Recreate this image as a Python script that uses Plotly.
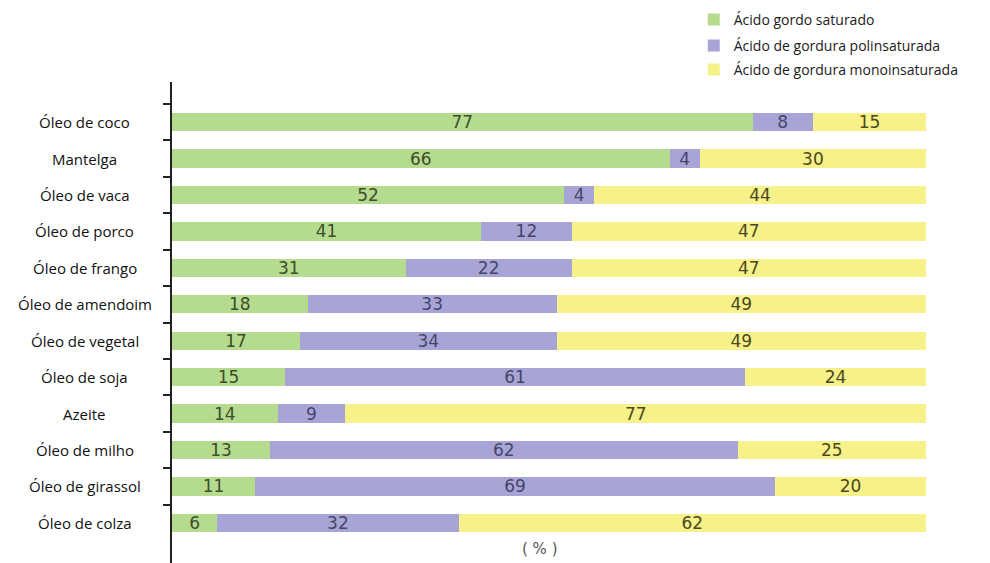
import plotly.graph_objects as go

oils = ["Óleo de coco", "Mantelga", "Óleo de vaca", "Óleo de porco", "Óleo de frango",
        "Óleo de amendoim", "Óleo de vegetal", "Óleo de soja", "Azeite", "Óleo de milho",
        "Óleo de girassol", "Óleo de colza"]
saturated = [77, 66, 52, 41, 31, 18, 17, 15, 14, 13, 11, 6]
polyunsat = [8, 4, 4, 12, 22, 33, 34, 61, 9, 62, 69, 32]
monounsat = [15, 30, 44, 47, 47, 49, 49, 24, 77, 25, 20, 62]

series_names = ["Ácido gordo saturado", "Ácido de gordura polinsaturada",
                "Ácido de gordura monoinsaturada"]
bar_colors = ["#b4db8e", "#a8a5d6", "#f6f188"]
text_colors = ["#3e4d2c", "#45456a", "#4b4722"]
legend_ids = ["legend", "legend2", "legend3"]
legend_rows_y = [1.129, 1.075, 1.025]

fig = go.Figure()
for name, vals, bc, tc, lid in zip(series_names, [saturated, polyunsat, monounsat],
                                   bar_colors, text_colors, legend_ids):
    fig.add_trace(go.Bar(
        y=oils, x=vals, name=name, orientation="h", legend=lid,
        marker=dict(color=bc, line=dict(width=0)),
        text=[str(v) for v in vals], textposition="inside",
        insidetextanchor="middle", textangle=0,
        textfont=dict(family="DejaVu Sans", size=17, color=tc),
        hoverinfo="skip",
    ))

# category labels, centred in the left margin
for oil in oils:
    fig.add_annotation(x=-0.1154, xref="paper", y=oil, yref="y", text=oil,
                       showarrow=False, xanchor="center", yanchor="middle",
                       font=dict(family="Open Sans", size=15, color="#111111"))

fig.add_annotation(x=48.8, xref="x", y=0.03, yref="paper", text="( % )",
                   showarrow=False, xanchor="center", yanchor="middle",
                   font=dict(family="DejaVu Sans", size=15, color="#555555"))

legend_style = dict(x=0.692, xanchor="left", yanchor="middle",
                    bgcolor="rgba(0,0,0,0)",
                    font=dict(family="Open Sans", size=14, color="#1a1a1a"),
                    itemwidth=30)

fig.update_layout(
    width=990, height=563,
    margin=dict(l=172, r=64, t=82, b=0),
    paper_bgcolor="white", plot_bgcolor="white",
    barmode="stack", bargap=0.5,
    uniformtext=dict(mode="show", minsize=17),
    showlegend=True,
    legend=dict(y=legend_rows_y[0], **legend_style),
    legend2=dict(y=legend_rows_y[1], **legend_style),
    legend3=dict(y=legend_rows_y[2], **legend_style),
    xaxis=dict(range=[0, 100], showgrid=False, zeroline=False, showline=False,
               showticklabels=False, ticks=""),
    yaxis=dict(categoryorder="array", categoryarray=oils,
               range=[12.1, -1.1], showgrid=False, zeroline=False,
               showline=True, linecolor="#222222", linewidth=1.5,
               ticks="outside", tickson="boundaries", ticklen=7,
               tickcolor="#222222", tickwidth=1.5, showticklabels=False),
)

fig.write_html("out.html")
